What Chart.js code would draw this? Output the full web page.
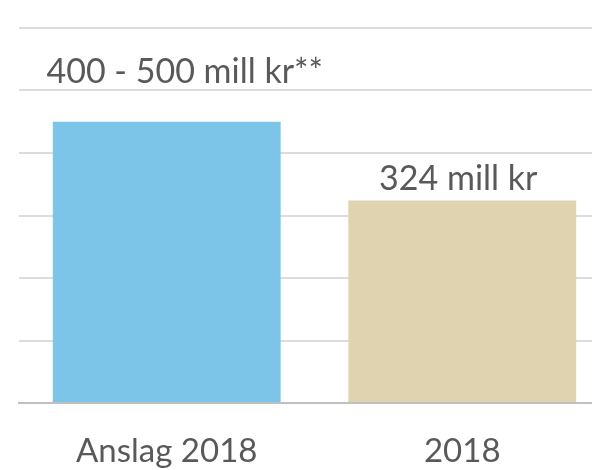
<!DOCTYPE html>
<html>
<head>
<meta charset="utf-8">
<script src="https://cdn.jsdelivr.net/npm/chart.js@4/dist/chart.umd.min.js"></script>
<style>
  html, body { margin: 0; padding: 0; background: #fff; overflow: hidden; }
  #wrap { position: relative; width: 610px; height: 470px; }
</style>
</head>
<body>
<div id="wrap"><canvas id="barChart"></canvas></div>
<script>
// Chart data
const categories = ['Anslag 2018', '2018'];
const values = [450, 324];
const valueLabels = ['400 - 500 mill kr**', '324 mill kr'];
const barColors = ['#7DC5E8', '#DFD4AF'];

Chart.defaults.font.family = 'Lato, "Open Sans", sans-serif';
Chart.defaults.color = '#595959';

// Draw the value text above each bar
const labelPlugin = {
    id: 'valueLabels',
    afterDatasetsDraw(chart) {
        const ctx = chart.ctx;
        const meta = chart.getDatasetMeta(0);
        const shifts = [[18, 39], [-4, 11]]; // x shift, gap above bar
        ctx.save();
        ctx.font = '34px Lato, "Open Sans", sans-serif';
        ctx.fillStyle = '#595959';
        ctx.textAlign = 'center';
        ctx.textBaseline = 'alphabetic';
        meta.data.forEach((bar, i) => {
            ctx.fillText(valueLabels[i], bar.x + shifts[i][0], bar.y - shifts[i][1]);
        });
        ctx.restore();
    }
};

const ctx = document.getElementById('barChart').getContext('2d');
new Chart(ctx, {
    type: 'bar',
    data: {
        labels: categories,
        datasets: [{
            data: values,
            backgroundColor: barColors,
            borderWidth: 0,
            categoryPercentage: 1,
            barPercentage: 0.771
        }]
    },
    options: {
        responsive: true,
        maintainAspectRatio: false,
        animation: false,
        layout: { padding: { left: 19, top: 28, right: 0, bottom: 0 } },
        scales: {
            x: {
                grid: { display: false },
                border: { display: true, color: '#BFBFBF', width: 2 },
                ticks: { font: { size: 33 }, color: '#595959', padding: 21 },
                afterFit(axis) { axis.height = 67; }
            },
            y: {
                min: 0,
                max: 600,
                ticks: { stepSize: 100, display: false },
                border: { display: false },
                grid: { color: '#DCDCDC', lineWidth: 2, drawTicks: false },
                afterFit(axis) { axis.width = 0; }
            }
        },
        plugins: {
            legend: { display: false },
            tooltip: { enabled: false }
        }
    },
    plugins: [labelPlugin]
});
</script>
</body>
</html>
